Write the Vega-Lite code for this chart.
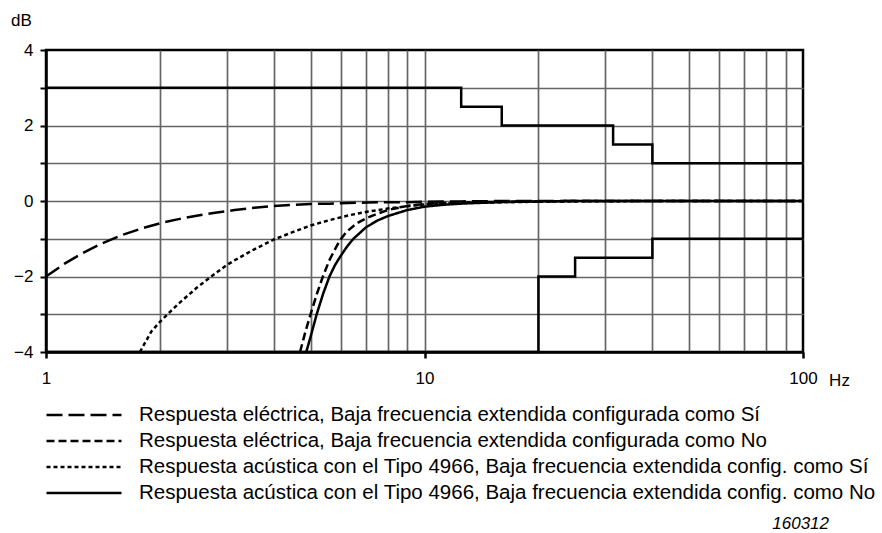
{
  "$schema": "https://vega.github.io/schema/vega-lite/v6.json",
  "autosize": {"type": "none"},
  "padding": {"left": 46, "top": 50, "right": 79, "bottom": 181},
  "width": 757,
  "height": 302,
  "background": "white",
  "config": {
    "font": "Liberation Sans",
    "view": {"stroke": "black", "strokeWidth": 2.5}
  },
  "title": {
    "text": "160312",
    "orient": "bottom",
    "anchor": "end",
    "frame": "group",
    "font": "Liberation Sans",
    "fontSize": 17,
    "fontStyle": "italic",
    "fontWeight": "normal",
    "color": "black",
    "dx": 26,
    "offset": 10
  },
  "datasets": {
    "curves": [
      {"series": "Respuesta eléctrica, Baja frecuencia extendida configurada como Sí", "f": 1, "dB": -2.0},
      {"series": "Respuesta eléctrica, Baja frecuencia extendida configurada como Sí", "f": 1.12, "dB": -1.66},
      {"series": "Respuesta eléctrica, Baja frecuencia extendida configurada como Sí", "f": 1.25, "dB": -1.38},
      {"series": "Respuesta eléctrica, Baja frecuencia extendida configurada como Sí", "f": 1.4, "dB": -1.13},
      {"series": "Respuesta eléctrica, Baja frecuencia extendida configurada como Sí", "f": 1.6, "dB": -0.89},
      {"series": "Respuesta eléctrica, Baja frecuencia extendida configurada como Sí", "f": 1.8, "dB": -0.72},
      {"series": "Respuesta eléctrica, Baja frecuencia extendida configurada como Sí", "f": 2, "dB": -0.59},
      {"series": "Respuesta eléctrica, Baja frecuencia extendida configurada como Sí", "f": 2.24, "dB": -0.48},
      {"series": "Respuesta eléctrica, Baja frecuencia extendida configurada como Sí", "f": 2.5, "dB": -0.39},
      {"series": "Respuesta eléctrica, Baja frecuencia extendida configurada como Sí", "f": 2.8, "dB": -0.31},
      {"series": "Respuesta eléctrica, Baja frecuencia extendida configurada como Sí", "f": 3.15, "dB": -0.24},
      {"series": "Respuesta eléctrica, Baja frecuencia extendida configurada como Sí", "f": 3.55, "dB": -0.18},
      {"series": "Respuesta eléctrica, Baja frecuencia extendida configurada como Sí", "f": 4, "dB": -0.13},
      {"series": "Respuesta eléctrica, Baja frecuencia extendida configurada como Sí", "f": 4.5, "dB": -0.1},
      {"series": "Respuesta eléctrica, Baja frecuencia extendida configurada como Sí", "f": 5, "dB": -0.08},
      {"series": "Respuesta eléctrica, Baja frecuencia extendida configurada como Sí", "f": 5.6, "dB": -0.07},
      {"series": "Respuesta eléctrica, Baja frecuencia extendida configurada como Sí", "f": 6.3, "dB": -0.05},
      {"series": "Respuesta eléctrica, Baja frecuencia extendida configurada como Sí", "f": 7.1, "dB": -0.04},
      {"series": "Respuesta eléctrica, Baja frecuencia extendida configurada como Sí", "f": 8, "dB": -0.03},
      {"series": "Respuesta eléctrica, Baja frecuencia extendida configurada como Sí", "f": 9, "dB": -0.03},
      {"series": "Respuesta eléctrica, Baja frecuencia extendida configurada como Sí", "f": 10, "dB": -0.02},
      {"series": "Respuesta eléctrica, Baja frecuencia extendida configurada como Sí", "f": 12.5, "dB": -0.01},
      {"series": "Respuesta eléctrica, Baja frecuencia extendida configurada como Sí", "f": 16, "dB": 0},
      {"series": "Respuesta eléctrica, Baja frecuencia extendida configurada como Sí", "f": 25, "dB": 0},
      {"series": "Respuesta eléctrica, Baja frecuencia extendida configurada como Sí", "f": 40, "dB": 0},
      {"series": "Respuesta eléctrica, Baja frecuencia extendida configurada como Sí", "f": 63, "dB": 0},
      {"series": "Respuesta eléctrica, Baja frecuencia extendida configurada como Sí", "f": 100, "dB": 0},

      {"series": "Respuesta eléctrica, Baja frecuencia extendida configurada como No", "f": 4.69, "dB": -4.0},
      {"series": "Respuesta eléctrica, Baja frecuencia extendida configurada como No", "f": 4.85, "dB": -3.45},
      {"series": "Respuesta eléctrica, Baja frecuencia extendida configurada como No", "f": 5, "dB": -3.0},
      {"series": "Respuesta eléctrica, Baja frecuencia extendida configurada como No", "f": 5.2, "dB": -2.45},
      {"series": "Respuesta eléctrica, Baja frecuencia extendida configurada como No", "f": 5.39, "dB": -2.0},
      {"series": "Respuesta eléctrica, Baja frecuencia extendida configurada como No", "f": 5.6, "dB": -1.58},
      {"series": "Respuesta eléctrica, Baja frecuencia extendida configurada como No", "f": 5.8, "dB": -1.28},
      {"series": "Respuesta eléctrica, Baja frecuencia extendida configurada como No", "f": 5.97, "dB": -1.05},
      {"series": "Respuesta eléctrica, Baja frecuencia extendida configurada como No", "f": 6.15, "dB": -0.88},
      {"series": "Respuesta eléctrica, Baja frecuencia extendida configurada como No", "f": 6.3, "dB": -0.77},
      {"series": "Respuesta eléctrica, Baja frecuencia extendida configurada como No", "f": 6.6, "dB": -0.6},
      {"series": "Respuesta eléctrica, Baja frecuencia extendida configurada como No", "f": 7, "dB": -0.46},
      {"series": "Respuesta eléctrica, Baja frecuencia extendida configurada como No", "f": 7.5, "dB": -0.34},
      {"series": "Respuesta eléctrica, Baja frecuencia extendida configurada como No", "f": 8, "dB": -0.24},
      {"series": "Respuesta eléctrica, Baja frecuencia extendida configurada como No", "f": 9, "dB": -0.13},
      {"series": "Respuesta eléctrica, Baja frecuencia extendida configurada como No", "f": 10, "dB": -0.08},
      {"series": "Respuesta eléctrica, Baja frecuencia extendida configurada como No", "f": 11.2, "dB": -0.05},
      {"series": "Respuesta eléctrica, Baja frecuencia extendida configurada como No", "f": 12.5, "dB": -0.04},
      {"series": "Respuesta eléctrica, Baja frecuencia extendida configurada como No", "f": 16, "dB": -0.02},
      {"series": "Respuesta eléctrica, Baja frecuencia extendida configurada como No", "f": 20, "dB": -0.01},
      {"series": "Respuesta eléctrica, Baja frecuencia extendida configurada como No", "f": 25, "dB": 0},
      {"series": "Respuesta eléctrica, Baja frecuencia extendida configurada como No", "f": 40, "dB": 0},
      {"series": "Respuesta eléctrica, Baja frecuencia extendida configurada como No", "f": 63, "dB": 0},
      {"series": "Respuesta eléctrica, Baja frecuencia extendida configurada como No", "f": 100, "dB": 0},

      {"series": "Respuesta acústica con el Tipo 4966, Baja frecuencia extendida config. como Sí", "f": 1.77, "dB": -4.0},
      {"series": "Respuesta acústica con el Tipo 4966, Baja frecuencia extendida config. como Sí", "f": 1.9, "dB": -3.45},
      {"series": "Respuesta acústica con el Tipo 4966, Baja frecuencia extendida config. como Sí", "f": 2, "dB": -3.2},
      {"series": "Respuesta acústica con el Tipo 4966, Baja frecuencia extendida config. como Sí", "f": 2.12, "dB": -2.95},
      {"series": "Respuesta acústica con el Tipo 4966, Baja frecuencia extendida config. como Sí", "f": 2.24, "dB": -2.72},
      {"series": "Respuesta acústica con el Tipo 4966, Baja frecuencia extendida config. como Sí", "f": 2.5, "dB": -2.3},
      {"series": "Respuesta acústica con el Tipo 4966, Baja frecuencia extendida config. como Sí", "f": 2.8, "dB": -1.92},
      {"series": "Respuesta acústica con el Tipo 4966, Baja frecuencia extendida config. como Sí", "f": 3, "dB": -1.7},
      {"series": "Respuesta acústica con el Tipo 4966, Baja frecuencia extendida config. como Sí", "f": 3.15, "dB": -1.57},
      {"series": "Respuesta acústica con el Tipo 4966, Baja frecuencia extendida config. como Sí", "f": 3.55, "dB": -1.28},
      {"series": "Respuesta acústica con el Tipo 4966, Baja frecuencia extendida config. como Sí", "f": 4, "dB": -1.02},
      {"series": "Respuesta acústica con el Tipo 4966, Baja frecuencia extendida config. como Sí", "f": 4.5, "dB": -0.82},
      {"series": "Respuesta acústica con el Tipo 4966, Baja frecuencia extendida config. como Sí", "f": 5, "dB": -0.65},
      {"series": "Respuesta acústica con el Tipo 4966, Baja frecuencia extendida config. como Sí", "f": 5.6, "dB": -0.51},
      {"series": "Respuesta acústica con el Tipo 4966, Baja frecuencia extendida config. como Sí", "f": 6.3, "dB": -0.38},
      {"series": "Respuesta acústica con el Tipo 4966, Baja frecuencia extendida config. como Sí", "f": 7.1, "dB": -0.28},
      {"series": "Respuesta acústica con el Tipo 4966, Baja frecuencia extendida config. como Sí", "f": 8, "dB": -0.2},
      {"series": "Respuesta acústica con el Tipo 4966, Baja frecuencia extendida config. como Sí", "f": 9, "dB": -0.14},
      {"series": "Respuesta acústica con el Tipo 4966, Baja frecuencia extendida config. como Sí", "f": 10, "dB": -0.09},
      {"series": "Respuesta acústica con el Tipo 4966, Baja frecuencia extendida config. como Sí", "f": 12.5, "dB": -0.05},
      {"series": "Respuesta acústica con el Tipo 4966, Baja frecuencia extendida config. como Sí", "f": 16, "dB": -0.03},
      {"series": "Respuesta acústica con el Tipo 4966, Baja frecuencia extendida config. como Sí", "f": 20, "dB": -0.02},
      {"series": "Respuesta acústica con el Tipo 4966, Baja frecuencia extendida config. como Sí", "f": 25, "dB": -0.01},
      {"series": "Respuesta acústica con el Tipo 4966, Baja frecuencia extendida config. como Sí", "f": 40, "dB": 0},
      {"series": "Respuesta acústica con el Tipo 4966, Baja frecuencia extendida config. como Sí", "f": 63, "dB": 0},
      {"series": "Respuesta acústica con el Tipo 4966, Baja frecuencia extendida config. como Sí", "f": 100, "dB": 0},

      {"series": "Respuesta acústica con el Tipo 4966, Baja frecuencia extendida config. como No", "f": 4.87, "dB": -4.0},
      {"series": "Respuesta acústica con el Tipo 4966, Baja frecuencia extendida config. como No", "f": 5, "dB": -3.6},
      {"series": "Respuesta acústica con el Tipo 4966, Baja frecuencia extendida config. como No", "f": 5.19, "dB": -3.0},
      {"series": "Respuesta acústica con el Tipo 4966, Baja frecuencia extendida config. como No", "f": 5.4, "dB": -2.45},
      {"series": "Respuesta acústica con el Tipo 4966, Baja frecuencia extendida config. como No", "f": 5.61, "dB": -2.0},
      {"series": "Respuesta acústica con el Tipo 4966, Baja frecuencia extendida config. como No", "f": 5.8, "dB": -1.7},
      {"series": "Respuesta acústica con el Tipo 4966, Baja frecuencia extendida config. como No", "f": 6, "dB": -1.46},
      {"series": "Respuesta acústica con el Tipo 4966, Baja frecuencia extendida config. como No", "f": 6.25, "dB": -1.2},
      {"series": "Respuesta acústica con el Tipo 4966, Baja frecuencia extendida config. como No", "f": 6.49, "dB": -1.0},
      {"series": "Respuesta acústica con el Tipo 4966, Baja frecuencia extendida config. como No", "f": 7, "dB": -0.7},
      {"series": "Respuesta acústica con el Tipo 4966, Baja frecuencia extendida config. como No", "f": 7.5, "dB": -0.52},
      {"series": "Respuesta acústica con el Tipo 4966, Baja frecuencia extendida config. como No", "f": 8, "dB": -0.4},
      {"series": "Respuesta acústica con el Tipo 4966, Baja frecuencia extendida config. como No", "f": 9, "dB": -0.24},
      {"series": "Respuesta acústica con el Tipo 4966, Baja frecuencia extendida config. como No", "f": 10, "dB": -0.15},
      {"series": "Respuesta acústica con el Tipo 4966, Baja frecuencia extendida config. como No", "f": 11.2, "dB": -0.1},
      {"series": "Respuesta acústica con el Tipo 4966, Baja frecuencia extendida config. como No", "f": 12.5, "dB": -0.07},
      {"series": "Respuesta acústica con el Tipo 4966, Baja frecuencia extendida config. como No", "f": 14, "dB": -0.05},
      {"series": "Respuesta acústica con el Tipo 4966, Baja frecuencia extendida config. como No", "f": 16, "dB": -0.03},
      {"series": "Respuesta acústica con el Tipo 4966, Baja frecuencia extendida config. como No", "f": 20, "dB": -0.01},
      {"series": "Respuesta acústica con el Tipo 4966, Baja frecuencia extendida config. como No", "f": 25, "dB": 0},
      {"series": "Respuesta acústica con el Tipo 4966, Baja frecuencia extendida config. como No", "f": 40, "dB": 0},
      {"series": "Respuesta acústica con el Tipo 4966, Baja frecuencia extendida config. como No", "f": 63, "dB": 0},
      {"series": "Respuesta acústica con el Tipo 4966, Baja frecuencia extendida config. como No", "f": 100, "dB": 0}
    ],
    "limits": [
      {"limit": "upper", "f": 1, "dB": 3},
      {"limit": "upper", "f": 12.5, "dB": 2.5},
      {"limit": "upper", "f": 16, "dB": 2},
      {"limit": "upper", "f": 31.5, "dB": 1.5},
      {"limit": "upper", "f": 40, "dB": 1},
      {"limit": "upper", "f": 100, "dB": 1},
      {"limit": "lower", "f": 1, "dB": -4},
      {"limit": "lower", "f": 20, "dB": -2},
      {"limit": "lower", "f": 25, "dB": -1.5},
      {"limit": "lower", "f": 40, "dB": -1},
      {"limit": "lower", "f": 100, "dB": -1}
    ]
  },
  "encoding": {
    "x": {
      "field": "f",
      "type": "quantitative",
      "scale": {"type": "log", "domain": [1, 100], "nice": false},
      "axis": {
        "values": [1, 2, 3, 4, 5, 6, 7, 8, 9, 10, 20, 30, 40, 50, 60, 70, 80, 90, 100],
        "labelExpr": "(datum.value == 1 || datum.value == 10 || datum.value == 100) ? format(datum.value, 'd') : ''",
        "labelFont": "Liberation Sans",
        "labelFontSize": 17,
        "labelColor": "black",
        "labelPadding": 12,
        "labelFlush": false,
        "labelOverlap": false,
        "domain": true,
        "domainColor": "black",
        "domainWidth": 2.5,
        "ticks": true,
        "tickSize": 6,
        "tickWidth": 2.5,
        "tickColor": "black",
        "tickOpacity": {"condition": {"test": "datum.value == 1 || datum.value == 10 || datum.value == 100", "value": 1}, "value": 0},
        "grid": true,
        "gridColor": "#666666",
        "gridWidth": 1.7,
        "gridOpacity": {"condition": {"test": "datum.value == 1 || datum.value == 100", "value": 0}, "value": 1},
        "title": "Hz",
        "titleFont": "Liberation Sans",
        "titleFontSize": 17,
        "titleFontWeight": "normal",
        "titleColor": "black",
        "titleAngle": 0,
        "titleAlign": "center",
        "titleBaseline": "middle",
        "titleX": 793,
        "titleY": 28
      }
    },
    "y": {
      "field": "dB",
      "type": "quantitative",
      "scale": {"domain": [-4, 4], "nice": false, "zero": false},
      "axis": {
        "values": [-4, -3, -2, -1, 0, 1, 2, 3, 4],
        "labelExpr": "datum.value % 2 == 0 ? datum.label : ''",
        "labelFont": "Liberation Sans",
        "labelFontSize": 17,
        "labelColor": "black",
        "labelPadding": 7,
        "labelFlush": false,
        "labelOverlap": false,
        "domain": true,
        "domainColor": "black",
        "domainWidth": 2.5,
        "ticks": true,
        "tickSize": 6,
        "tickWidth": 2,
        "tickColor": "black",
        "grid": true,
        "gridColor": "#666666",
        "gridWidth": 1.7,
        "gridOpacity": {"condition": {"test": "abs(datum.value) == 4", "value": 0}, "value": 1},
        "title": "dB",
        "titleFont": "Liberation Sans",
        "titleFontSize": 17,
        "titleFontWeight": "normal",
        "titleColor": "black",
        "titleAngle": 0,
        "titleAlign": "center",
        "titleBaseline": "middle",
        "titleX": -25,
        "titleY": -30
      }
    }
  },
  "layer": [
    {
      "data": {"name": "limits"},
      "mark": {"type": "line", "interpolate": "step-after", "color": "black", "strokeWidth": 2.5},
      "encoding": {"detail": {"field": "limit", "type": "nominal"}}
    },
    {
      "data": {"name": "curves"},
      "mark": {"type": "line", "color": "black", "strokeWidth": 2.5},
      "encoding": {
        "strokeDash": {
          "field": "series",
          "type": "nominal",
          "scale": {
            "domain": [
              "Respuesta eléctrica, Baja frecuencia extendida configurada como Sí",
              "Respuesta eléctrica, Baja frecuencia extendida configurada como No",
              "Respuesta acústica con el Tipo 4966, Baja frecuencia extendida config. como Sí",
              "Respuesta acústica con el Tipo 4966, Baja frecuencia extendida config. como No"
            ],
            "range": [[16, 6], [8, 4], [4, 3], [1, 0]]
          },
          "legend": {
            "orient": "none",
            "legendX": -1,
            "legendY": 352,
            "title": null,
            "direction": "vertical",
            "columns": 1,
            "padding": 0,
            "rowPadding": 0,
            "clipHeight": 26,
            "symbolType": "stroke",
            "symbolSize": 5625,
            "symbolStrokeWidth": 2.5,
            "symbolStrokeColor": "black",
            "labelFont": "Liberation Sans",
            "labelFontSize": 20.5,
            "labelColor": "black",
            "labelOffset": 16,
            "labelLimit": 0,
            "labelBaseline": "middle"
          }
        }
      }
    }
  ]
}
